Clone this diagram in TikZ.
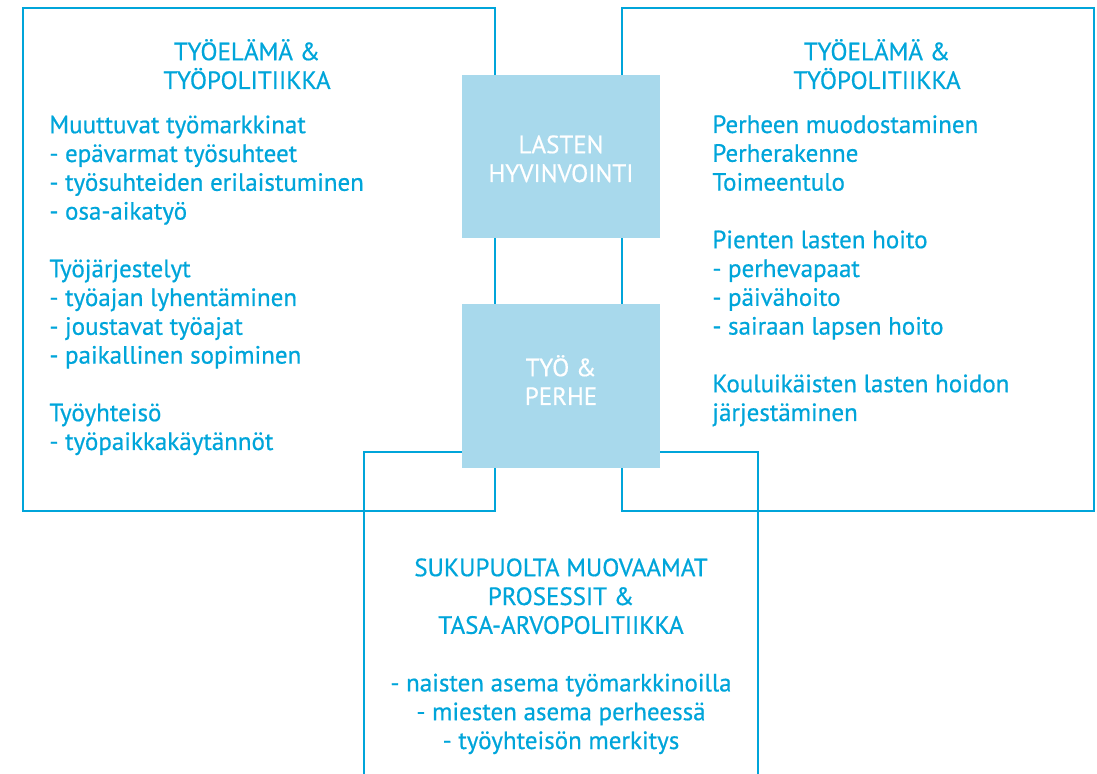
\documentclass[tikz,border=0pt]{standalone}
\usepackage{fontspec}
\setmainfont{PT Sans}
\newfontfamily\dinfont[FakeBold=0.6]{PT Sans}
\usetikzlibrary{positioning}

\definecolor{framecyan}{HTML}{00A5DA}
\definecolor{boxcyan}{HTML}{A8D9EC}

\begin{document}
\begin{tikzpicture}[
    x=0.5pt, y=-0.5pt,
    % 定义样式
    frame/.style={draw=framecyan, line width=1.35pt, inner sep=0pt},
    filled/.style={fill=boxcyan, inner sep=0pt},
    txt/.style={text=framecyan, inner sep=0pt, font=\dinfont\fontsize{12.5}{14.4}\selectfont},
    title/.style={txt, align=center, anchor=base},
    body/.style={txt, align=left, anchor=base west},
    inner/.style={txt, text=white, align=center, anchor=base}
]

% --- 画布 ---
\useasboundingbox (0,0) rectangle (1097,774);
\clip (0,0) rectangle (1097,774);

% --- 配置参数 ---
\def\gap{\\[14.4pt]}

% --- 绘制框架 ---
\node[frame, minimum width=236pt, minimum height=251.5pt] (left) at (259,259.5) {};
\node[frame, minimum width=236pt, minimum height=251.5pt] (right) at (858,259.5) {};
\node[frame, minimum width=197pt, minimum height=224pt] (bottom) at (561,676) {};

% --- 中间的填充框 ---
\node[filled, minimum width=99pt, minimum height=81.5pt] (child) at (561,156.5) {};
\node[filled, minimum width=99pt, minimum height=82pt] (work) at (561,386) {};

% --- 文字 (锚点在最后一行的基线) ---
\node[inner] (child-t) at (561,182) {LASTEN\\HYVINVOINTI};
\node[inner] (work-t) at (561,405) {TYÖ \&\\PERHE};

% 左框
\node[title] (left-t) at (247,89) {TYÖELÄMÄ \&\\TYÖPOLITIIKKA};
\node[body] (left-b) at (49,450) {Muuttuvat työmarkkinat\\
- epävarmat työsuhteet\\
- työsuhteiden erilaistuminen\\
- osa-aikatyö\gap
Työjärjestelyt\\
- työajan lyhentäminen\\
- joustavat työajat\\
- paikallinen sopiminen\gap
Työyhteisö\\
- työpaikkakäytännöt};

% 右框
\node[title] (right-t) at (877,89) {TYÖELÄMÄ \&\\TYÖPOLITIIKKA};
\node[body] (right-b) at (712,421) {Perheen muodostaminen\\
Perherakenne\\
Toimeentulo\gap
Pienten lasten hoito\\
- perhevapaat\\
- päivähoito\\
- sairaan lapsen hoito\gap
Kouluikäisten lasten hoidon\\
järjestäminen};

% 下框
\node[title] (bottom-t) at (561,749) {SUKUPUOLTA MUOVAAMAT\\PROSESSIT \&\\TASA-ARVOPOLITIIKKA\gap
- naisten asema työmarkkinoilla\\
- miesten asema perheessä\\
- työyhteisön merkitys};

\end{tikzpicture}
\end{document}
